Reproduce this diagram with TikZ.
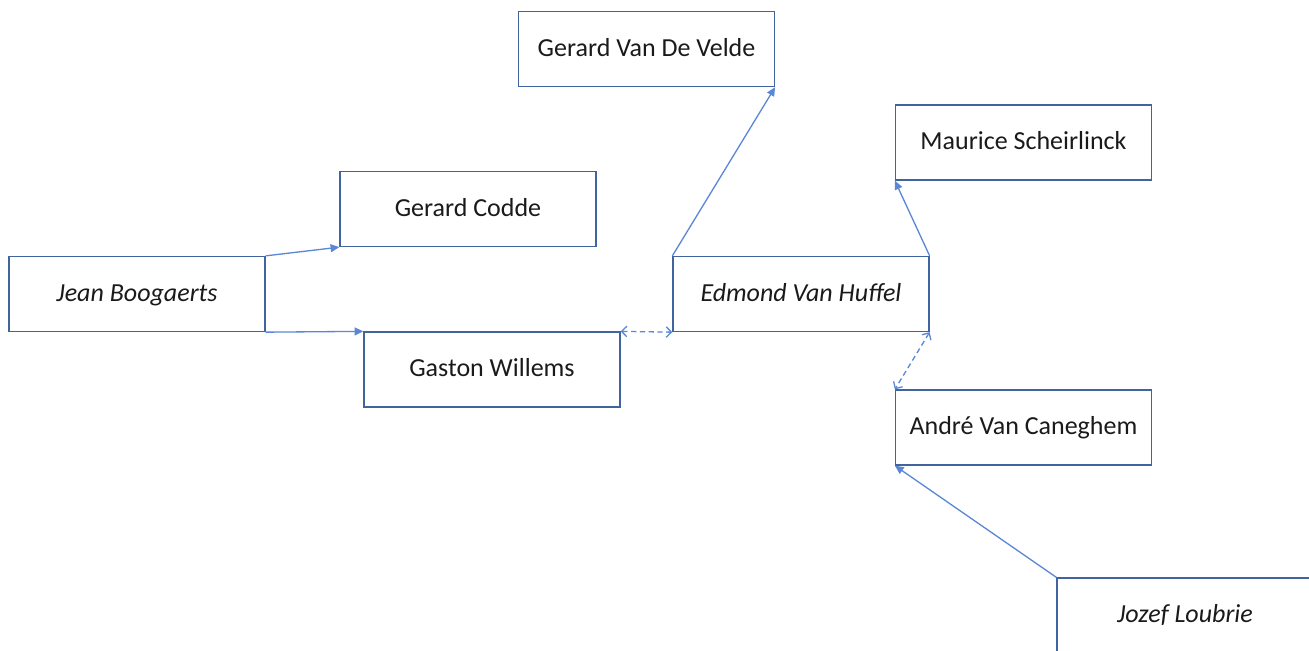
\documentclass[tikz,border=0pt]{standalone}
\usepackage{fontspec}
\setmainfont{Carlito}
\usepackage{xcolor}
\usepackage{tikz}
\usetikzlibrary{arrows.meta}
\definecolor{edge}{HTML}{41649F}
\definecolor{link}{HTML}{5B87D6}
\definecolor{ink}{HTML}{1A1A1A}
\tikzset{
  person/.style={draw=edge, line width=0.75pt, minimum width=5.12cm, minimum height=1.5cm,
    inner sep=0pt, text height=0.9em, text depth=0.08em, text=ink,
    font=\fontsize{14.8}{17}\selectfont},
  keyperson/.style={person, font=\fontsize{14.8}{17}\selectfont\itshape},
  solidlink/.style={draw=link, line width=0.75pt, -{Triangle[length=5pt,width=4.5pt]}},
  dashedlink/.style={draw=link, line width=0.75pt, dash pattern=on 3pt off 2pt,
    {Straight Barb[length=3pt,width=6pt]}-{Straight Barb[length=3pt,width=6pt]}},
}
\begin{document}
\begin{tikzpicture}[x=0.02cm, y=-0.02cm]
\useasboundingbox (0,0) rectangle (1309,650);
% persons
\node[person] (vandevelde) at (646.5,49) {Gerard Van De Velde};
\node[person] (scheirlinck) at (1023.5,142.5) {Maurice Scheirlinck};
\node[person] (codde) at (468,209) {Gerard Codde};
\node[keyperson] (boogaerts) at (137,294) {Jean Boogaerts};
\node[keyperson] (huffel) at (801,294) {Edmond Van Huffel};
\node[person] (willems) at (492,369.5) {Gaston Willems};
\node[person] (caneghem) at (1023.5,427.5) {André Van Caneghem};
\node[keyperson] (loubrie) at (1185,615.5) {Jozef Loubrie};

% links
\draw[solidlink] (boogaerts.north east) -- (codde.south west);
\draw[solidlink] (boogaerts.south east) -- (willems.north west);
\draw[dashedlink] (willems.north east) -- (huffel.south west);
\draw[solidlink] (huffel.north west) -- (vandevelde.south east);
\draw[solidlink] (huffel.north east) -- (scheirlinck.south west);
\draw[dashedlink] (huffel.south east) -- (caneghem.north west);
\draw[solidlink] (loubrie.north west) -- (caneghem.south west);
\end{tikzpicture}
\end{document}
